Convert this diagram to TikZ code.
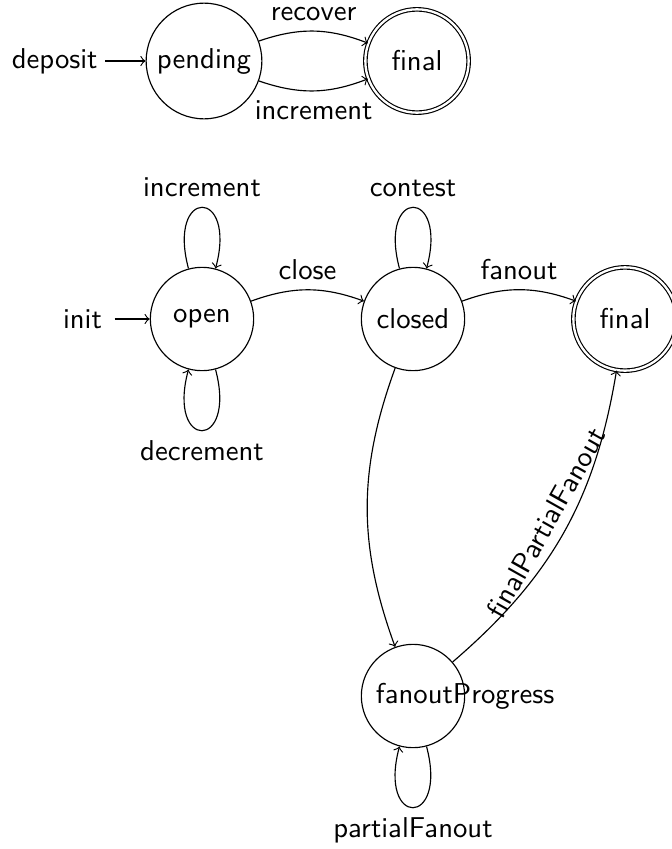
\documentclass[tikz,border=0pt]{standalone}
\begin{document}
\begin{tikzpicture}[x=0.3484pt, y=-0.3484pt, font=\sffamily, >=to,
  statebox/.style={circle, draw, minimum size=36pt, inner sep=2.5pt},
  acc/.style={statebox, double, double distance=0.8pt},
  lbl/.style={inner sep=2.5pt}]
\useasboundingbox (0,0) rectangle (671,849);
% top machine
\node[statebox] (pending) at (204,61) {pending};
\node[acc] (final1) at (417,61) {final};
\node[lbl] (deposit) at (54.7,61) {deposit};
\draw[->] (deposit) -- (pending);
\draw[->] (pending) to[bend left=20] node[above] {recover} (final1);
\draw[->] (pending) to[bend right=20] node[below] {increment} (final1);
% bottom machine
\node[statebox] (open) at (202,319) {open};
\node[statebox] (closed) at (413,319) {closed};
\node[acc] (final2) at (625,319) {final};
\node[statebox] (fp) at (413,696) {\makebox[25.8pt][l]{fanoutProgress}};
\node[lbl, inner sep=4.2pt] (init) at (82.5,319) {init};
\draw[->] (init) -- (open);
\draw[->] (open) to[bend left=20] node[above] {close} (closed);
\draw[->] (closed) to[bend left=20] node[above] {fanout} (final2);
\draw[->] (closed) to[bend right=20] (fp);
\draw[->] (fp) to[bend right=20] node[sloped, above] {finalPartialFanout} (final2);
\draw[->] (open) to[loop above] node[above] {increment} (open);
\draw[->] (open) to[loop below] node[below] {decrement} (open);
\draw[->] (closed) to[loop above] node[above] {contest} (closed);
\draw[->] (fp) to[loop below] node[below] {partialFanout} (fp);
\end{tikzpicture}
\end{document}
